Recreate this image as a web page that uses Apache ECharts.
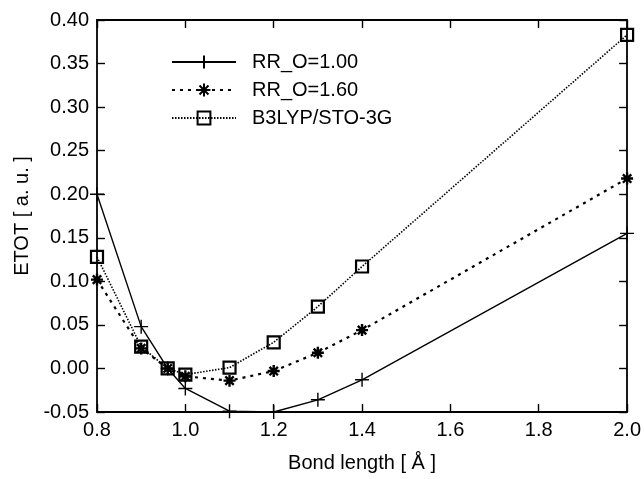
<!DOCTYPE html>
<html>
<head>
<meta charset="utf-8">
<script src="https://cdn.jsdelivr.net/npm/echarts@6/dist/echarts.min.js"></script>
<style>html,body{margin:0;padding:0;background:#fff}#c{width:644px;height:479px}</style>
</head>
<body>
<div id="c"></div>
<script>
const bondLength = [0.8, 0.9, 0.96, 1.0, 1.1, 1.2, 1.3, 1.4, 2.0];
const rr100 = [0.200, 0.048, 0.000, -0.023, -0.049, -0.050, -0.036, -0.013, 0.155];
const rr160 = [0.102, 0.023, 0.000, -0.009, -0.014, -0.003, 0.018, 0.044, 0.218];
const b3lyp = [0.128, 0.025, 0.000, -0.007, 0.001, 0.030, 0.071, 0.117, 0.383];
const seriesNames = ['RR_O=1.00', 'RR_O=1.60', 'B3LYP/STO-3G'];
const xTickLabels = ['0.8', '1.0', '1.2', '1.4', '1.6', '1.8', '2.0'];
const yTickLabels = ['-0.05', '0.00', '0.05', '0.10', '0.15', '0.20', '0.25', '0.30', '0.35', '0.40'];

const FONT = 'Liberation Sans, Arial, Helvetica, sans-serif';
const FS = 20;
const plusPath = 'path://M0,5L10,5M5,0L5,10';
const starPath = 'path://M0,5L10,5M5,0L5,10M1.5,1.5L8.5,8.5M1.5,8.5L8.5,1.5';
const squarePath = 'path://M0,0L10,0L10,10L0,10Z';

function pairs(ys) { return bondLength.map((x, i) => [x, ys[i]]); }

const axisCommon = {
  axisLine: { show: true, onZero: false, lineStyle: { color: '#000', width: 1.8 } },
  axisTick: { show: true, inside: true, length: 8, lineStyle: { color: '#000', width: 1.4 } },
  splitLine: { show: false }
};

const chart = echarts.init(document.getElementById('c'), null, { renderer: 'canvas' });
chart.setOption({
  animation: false,
  backgroundColor: '#fff',
  grid: { left: 97, right: 16, top: 20, bottom: 67, containLabel: false },
  legend: {
    orient: 'vertical', left: 166, top: 47,
    itemWidth: 64, itemHeight: 16, itemGap: 8,
    textStyle: { fontFamily: FONT, fontSize: FS, color: '#000', padding: [0, 0, 0, 11] },
    data: seriesNames
  },
  xAxis: [
    Object.assign({
      type: 'value', min: 0.8, max: 2.0, interval: 0.2, position: 'bottom',
      name: 'Bond length [ Å ]', nameLocation: 'middle', nameGap: 41,
      nameTextStyle: { fontFamily: FONT, fontSize: FS, color: '#000' },
      axisLabel: { fontFamily: FONT, fontSize: FS, color: '#000', margin: 8,
        formatter: v => xTickLabels[Math.round((v - 0.8) / 0.2)] }
    }, axisCommon),
    Object.assign({
      type: 'value', min: 0.8, max: 2.0, interval: 0.2, position: 'top',
      axisLabel: { show: false }
    }, axisCommon)
  ],
  yAxis: [
    Object.assign({
      type: 'value', min: -0.05, max: 0.4, interval: 0.05, position: 'left',
      name: 'ETOT [ a. u. ]', nameLocation: 'middle', nameGap: 64, nameRotate: 90,
      nameTextStyle: { fontFamily: FONT, fontSize: FS, color: '#000' },
      axisLabel: { fontFamily: FONT, fontSize: FS, color: '#000', margin: 8,
        formatter: v => yTickLabels[Math.round((v + 0.05) / 0.05)] }
    }, axisCommon),
    Object.assign({
      type: 'value', min: -0.05, max: 0.4, interval: 0.05, position: 'right',
      axisLabel: { show: false }
    }, axisCommon)
  ],
  series: [
    {
      name: seriesNames[0], type: 'line', data: pairs(rr100),
      symbol: plusPath, symbolSize: 14, showAllSymbol: true,
      lineStyle: { color: '#000', width: 1.4, type: 'solid' },
      itemStyle: { color: 'rgba(0,0,0,0)', borderColor: '#000', borderWidth: 1.4 },
      z: 3
    },
    {
      name: seriesNames[1], type: 'line', data: pairs(rr160),
      symbol: starPath, symbolSize: 12, showAllSymbol: true,
      lineStyle: { color: '#000', width: 2.2, type: [3, 5] },
      itemStyle: { color: 'rgba(0,0,0,0)', borderColor: '#000', borderWidth: 2.4 },
      z: 3
    },
    {
      name: seriesNames[2], type: 'line', data: pairs(b3lyp),
      symbol: squarePath, symbolSize: 12, showAllSymbol: true,
      lineStyle: { color: '#000', width: 1.6, type: [1.5, 1.5] },
      itemStyle: { color: 'rgba(0,0,0,0)', borderColor: '#000', borderWidth: 2.2 },
      z: 3
    }
  ]
});
</script>
</body>
</html>
